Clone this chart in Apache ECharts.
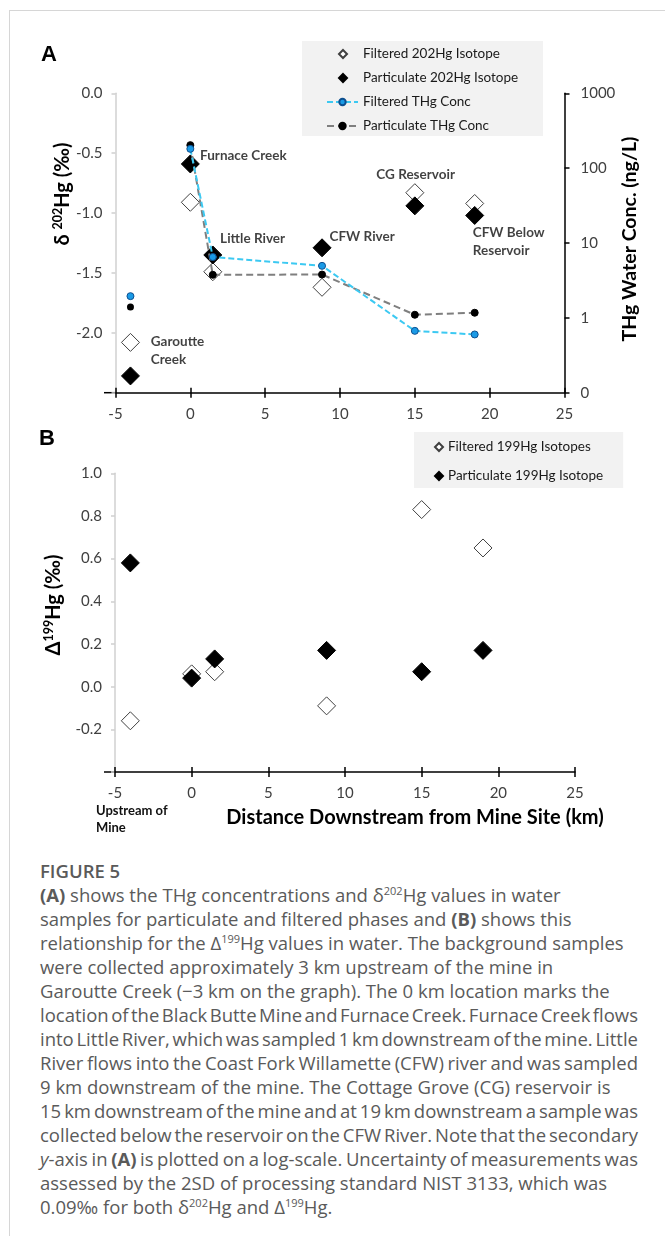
<!DOCTYPE html>
<html>
<head>
<meta charset="utf-8">
<script src="https://cdn.jsdelivr.net/npm/echarts@6/dist/echarts.min.js"></script>
<style>
  html, body { margin: 0; padding: 0; background: #fff; }
  #page { position: relative; width: 665px; height: 1236px; overflow: hidden; background: #fff; }
  #frame { position: absolute; left: 9px; top: 10px; right: -5px; bottom: -5px;
           border-top: 1.5px solid #d6d6d6; border-left: 1.5px solid #d6d6d6; }
  #chart { position: absolute; left: 0; top: 0; width: 665px; height: 850px; }
  #caption { position: absolute; left: 40px; top: 859px; width: 625px;
             font-family: "Open Sans", "Noto Sans", sans-serif; font-size: 18.5px; line-height: 24px;
             color: #5a5a5a; }
  #caption .ln { display: block; white-space: nowrap; }
  #caption .ln span.inner { display: inline-block; }
  #caption .fig { font-weight: 600; }
  #caption b { font-weight: 700; }
  #caption sup { font-size: 11px; line-height: 0; vertical-align: 7px; }
</style>
</head>
<body>
<div id="page">
  <div id="frame"></div>
  <div id="chart"></div>
  <div id="caption">
    <span class="ln fig">FIGURE 5</span>
    <span class="ln"><b>(A)</b> shows the THg concentrations and δ<sup>202</sup>Hg values in water</span>
    <span class="ln">samples for particulate and filtered phases and <b>(B)</b> shows this</span>
    <span class="ln">relationship for the Δ<sup>199</sup>Hg values in water. The background samples</span>
    <span class="ln">were collected approximately 3 km upstream of the mine in</span>
    <span class="ln">Garoutte Creek (−3 km on the graph). The 0 km location marks the</span>
    <span class="ln">location of the Black Butte Mine and Furnace Creek. Furnace Creek flows</span>
    <span class="ln">into Little River, which was sampled 1 km downstream of the mine. Little</span>
    <span class="ln">River flows into the Coast Fork Willamette (CFW) river and was sampled</span>
    <span class="ln">9 km downstream of the mine. The Cottage Grove (CG) reservoir is</span>
    <span class="ln">15 km downstream of the mine and at 19 km downstream a sample was</span>
    <span class="ln">collected below the reservoir on the CFW River. Note that the secondary</span>
    <span class="ln"><i>y</i>-axis in <b>(A)</b> is plotted on a log-scale. Uncertainty of measurements was</span>
    <span class="ln">assessed by the 2SD of processing standard NIST 3133, which was</span>
    <span class="ln">0.09‰ for both δ<sup>202</sup>Hg and Δ<sup>199</sup>Hg.</span>
  </div>
</div>
<script>
// ---------------- data ----------------
const distKm          = [-4, 0, 1.5, 8.8, 15, 19];
const filtered202     = [-2.08, -0.91, -1.49, -1.62, -0.83, -0.92];
const particulate202  = [-2.36, -0.59, -1.35, -1.29, -0.94, -1.02];
const filteredTHg     = [1.95, 181, 6.5, 4.95, 0.67, 0.60];
const particulateTHg  = [1.40, 203, 3.76, 3.79, 1.10, 1.17];
const filtered199     = [-0.16, 0.06, 0.07, -0.09, 0.83, 0.65];
const particulate199  = [0.58, 0.04, 0.13, 0.17, 0.07, 0.17];
const siteNames       = ['Garoutte\nCreek', 'Furnace Creek', 'Little River', 'CFW River', 'CG Reservoir', 'CFW Below\nReservoir'];
const siteLabelX      = [-2.64, 0.65, 1.99, 9.3, 12.43, 18.87];
const siteLabelY      = [-2.15, -0.52, -1.21, -1.2, -0.68, -1.24];
const legendA = ['Filtered 202Hg Isotope', 'Particulate 202Hg Isotope', 'Filtered THg Conc', 'Particulate THg Conc'];
const legendB = ['Filtered 199Hg Isotopes', 'Particulate 199Hg Isotope'];

// ---------------- caption fitting (long lines are set tighter, as in the source) ----------------
(function fitCaption() {
  const maxW = 598;
  document.querySelectorAll('#caption .ln').forEach(el => {
    const range = document.createRange();
    range.selectNodeContents(el);
    const w = range.getBoundingClientRect().width;
    if (w > maxW) {
      const spaces = (el.textContent.match(/ /g) || []).length;
      if (spaces) el.style.wordSpacing = ((maxW - w) / spaces) + 'px';
    }
  });
})();

// ---------------- helpers ----------------
const pairs = (xs, ys) => xs.map((x, i) => [x, ys[i]]);
const FONT = 'Lato';
const labelColor = '#404040';

const chart = echarts.init(document.getElementById('chart'), null, { renderer: 'canvas' });

const xMain = (grid) => ({
  type: 'value', gridIndex: grid, min: -5, max: 25, interval: 5, position: 'bottom',
  axisLine: { show: true, onZero: false, lineStyle: { color: '#000', width: 1.5 } },
  axisTick: { show: true, inside: false, length: 5, lineStyle: { color: '#000', width: 1.5 } },
  axisLabel: { show: true, margin: 14, fontFamily: FONT, fontSize: 15, color: labelColor },
  splitLine: { show: false }
});
const xInner = (grid) => ({
  type: 'value', gridIndex: grid, min: -5, max: 25, interval: 5, position: 'bottom',
  axisLine: { show: false, onZero: false },
  axisTick: { show: true, inside: true, length: 5, lineStyle: { color: '#000', width: 1.5 } },
  axisLabel: { show: false },
  splitLine: { show: false }
});

const diamondOpen = { color: '#fff', borderColor: '#404040', borderWidth: 1, opacity: 1 };
const diamondFill = { color: '#000', borderColor: '#000', borderWidth: 1, opacity: 1 };
const legendText = { fontFamily: FONT, fontSize: 13.5, lineHeight: 14, color: '#1a1a1a' };

const option = {
  animation: false,
  backgroundColor: 'transparent',
  grid: [
    { left: 115.5, top: 93.3, width: 449, height: 299.4, containLabel: false },
    { left: 115, top: 473.3, width: 460, height: 298.7, containLabel: false }
  ],
  xAxis: [ xMain(0), xInner(0), xMain(1), xInner(1) ],
  yAxis: [
    { type: 'value', gridIndex: 0, min: -2.5, max: 0, interval: 0.5, position: 'left',
      axisLine: { show: true, onZero: false, lineStyle: { color: '#d0d0d0', width: 1.5 } },
      axisTick: { show: true, length: 4, lineStyle: { color: '#d0d0d0', width: 1.5 } },
      axisLabel: { margin: 13, fontFamily: FONT, fontSize: 15, color: labelColor,
                   formatter: v => (v < -2.4 ? '' : v.toFixed(1)) },
      splitLine: { show: false } },
    { type: 'log', logBase: 10, gridIndex: 0, min: 0.1, max: 1000, position: 'right',
      axisLine: { show: true, onZero: false, lineStyle: { color: '#000', width: 1.5 } },
      axisTick: { show: true, length: 5, lineStyle: { color: '#000', width: 1.5 } },
      axisLabel: { margin: 16, fontFamily: FONT, fontSize: 15, color: labelColor,
                   formatter: v => (v < 0.5 ? '0' : String(Math.round(v))) },
      splitLine: { show: false } },
    { type: 'value', gridIndex: 1, min: -0.4, max: 1.0, interval: 0.2, position: 'left',
      axisLine: { show: true, onZero: false, lineStyle: { color: '#d0d0d0', width: 1.5 } },
      axisTick: { show: true, length: 4, lineStyle: { color: '#d0d0d0', width: 1.5 } },
      axisLabel: { margin: 13, fontFamily: FONT, fontSize: 15, color: labelColor,
                   formatter: v => (v < -0.35 ? '' : (Math.abs(v) < 1e-9 ? '0.0' : v.toFixed(1))) },
      splitLine: { show: false } }
  ],
  legend: [
    { data: [ { name: legendA[0], icon: 'diamond' }, { name: legendA[1], icon: 'diamond' } ],
      orient: 'vertical', left: 338, top: 41, padding: [6, 0, 0, 0],
      itemWidth: 8, itemHeight: 8, itemGap: 10,
      textStyle: Object.assign({ padding: [0, 0, 0, 11] }, legendText),
      selectedMode: false },
    { data: [ legendA[2], legendA[3] ],
      orient: 'vertical', left: 326, top: 89, padding: [6, 0, 0, 0],
      itemWidth: 31, itemHeight: 8, itemGap: 10,
      textStyle: legendText,
      selectedMode: false },
    { data: [ { name: legendB[0], icon: 'diamond' }, { name: legendB[1], icon: 'diamond' } ],
      orient: 'vertical', left: 414, top: 432,
      backgroundColor: '#f2f2f2', padding: [8, 20, 5, 20],
      itemWidth: 8, itemHeight: 8, itemGap: 15,
      textStyle: legendText,
      selectedMode: false }
  ],
  series: [
    { name: legendA[0], type: 'scatter', xAxisIndex: 0, yAxisIndex: 0, symbol: 'diamond', symbolSize: 18,
      itemStyle: diamondOpen, data: pairs(distKm, filtered202), z: 2 },
    { name: legendA[1], type: 'scatter', xAxisIndex: 0, yAxisIndex: 0, symbol: 'diamond', symbolSize: 18,
      itemStyle: diamondFill, data: pairs(distKm, particulate202), z: 2 },
    { name: legendA[2], type: 'line', xAxisIndex: 0, yAxisIndex: 1, symbol: 'circle', symbolSize: 7,
      showAllSymbol: true,
      itemStyle: { color: '#1a9ae6', borderColor: '#0d4f8f', borderWidth: 1 },
      lineStyle: { color: '#3cc9f2', width: 2, type: [6, 3] },
      data: pairs(distKm.slice(1), filteredTHg.slice(1)), z: 4 },
    { name: legendA[3], type: 'line', xAxisIndex: 0, yAxisIndex: 1, symbol: 'circle', symbolSize: 7,
      showAllSymbol: true,
      itemStyle: { color: '#000', borderColor: '#000', borderWidth: 1 },
      lineStyle: { color: '#7f7f7f', width: 2, type: [7, 4] },
      data: pairs(distKm.slice(1), particulateTHg.slice(1)), z: 3 },
    { type: 'scatter', xAxisIndex: 0, yAxisIndex: 1, symbol: 'circle', symbolSize: 7,
      itemStyle: { color: '#1a9ae6', borderColor: '#0d4f8f', borderWidth: 1, opacity: 1 },
      data: pairs(distKm.slice(0, 1), filteredTHg.slice(0, 1)), z: 4 },
    { type: 'scatter', xAxisIndex: 0, yAxisIndex: 1, symbol: 'circle', symbolSize: 7,
      itemStyle: { color: '#000', opacity: 1 },
      data: pairs(distKm.slice(0, 1), particulateTHg.slice(0, 1)), z: 4 },
    { type: 'scatter', xAxisIndex: 0, yAxisIndex: 0, symbolSize: 0, silent: true, z: 5,
      label: { show: true, position: 'right', distance: 0, formatter: p => p.data.name,
               fontFamily: FONT, fontWeight: 'bold', fontSize: 13.5, lineHeight: 18, color: '#111' },
      data: siteNames.map((n, i) => ({ name: n, value: [siteLabelX[i], siteLabelY[i]] })) },
    { name: legendB[0], type: 'scatter', xAxisIndex: 2, yAxisIndex: 2, symbol: 'diamond', symbolSize: 18,
      itemStyle: diamondOpen, data: pairs(distKm, filtered199), z: 2 },
    { name: legendB[1], type: 'scatter', xAxisIndex: 2, yAxisIndex: 2, symbol: 'diamond', symbolSize: 18,
      itemStyle: diamondFill, data: pairs(distKm, particulate199), z: 3 }
  ],
  graphic: [
    { type: 'rect', z: -10, shape: { x: 302, y: 41, width: 241, height: 95 }, style: { fill: '#f2f2f2' } },
    { type: 'text', x: 49, y: 55, style: { text: 'A', font: 'bold 22px "Liberation Sans"', fill: '#000',
      align: 'center', verticalAlign: 'middle', textAlign: 'center', textVerticalAlign: 'middle' } },
    { type: 'text', x: 47, y: 439, style: { text: 'B', font: 'bold 22px "Liberation Sans"', fill: '#000',
      align: 'center', verticalAlign: 'middle', textAlign: 'center', textVerticalAlign: 'middle' } },
    { type: 'text', x: 63, y: 194, rotation: Math.PI / 2,
      style: { text: '{a|δ }{s|202}{a|Hg (‰)}', align: 'center', verticalAlign: 'middle',
               textAlign: 'center', textVerticalAlign: 'middle',
               rich: { a: { fontFamily: FONT, fontWeight: 'bold', fontSize: 20, fill: '#000', lineHeight: 23 },
                       s: { fontFamily: FONT, fontWeight: 'bold', fontSize: 12.5, fill: '#000', verticalAlign: 'top', lineHeight: 23 } } } },
    { type: 'text', x: 630, y: 239, rotation: Math.PI / 2,
      style: { text: 'THg Water Conc. (ng/L)', font: 'bold 19.5px Lato', fill: '#000',
               align: 'center', verticalAlign: 'middle', textAlign: 'center', textVerticalAlign: 'middle' } },
    { type: 'text', x: 54, y: 605, rotation: Math.PI / 2,
      style: { text: '{a|Δ}{s|199}{a|Hg (‰)}', align: 'center', verticalAlign: 'middle',
               textAlign: 'center', textVerticalAlign: 'middle',
               rich: { a: { fontFamily: FONT, fontWeight: 'bold', fontSize: 20, fill: '#000', lineHeight: 23 },
                       s: { fontFamily: FONT, fontWeight: 'bold', fontSize: 12.5, fill: '#000', verticalAlign: 'top', lineHeight: 23 } } } },
    { type: 'text', x: 415, y: 818,
      style: { text: 'Distance Downstream from Mine Site (km)', font: 'bold 20px Lato', fill: '#000',
               align: 'center', verticalAlign: 'middle', textAlign: 'center', textVerticalAlign: 'middle' } },
    { type: 'text', x: 96, y: 819,
      style: { text: 'Upstream of\nMine', font: 'bold 13px Lato', fill: '#111', lineHeight: 17,
               align: 'left', verticalAlign: 'middle', textAlign: 'left', textVerticalAlign: 'middle' } },
    { type: 'line', shape: { x1: 104, y1: 392.7, x2: 116, y2: 392.7 }, style: { stroke: '#000', lineWidth: 1.5 } },
    { type: 'line', shape: { x1: 104, y1: 772, x2: 115.5, y2: 772 }, style: { stroke: '#000', lineWidth: 1.5 } }
  ]
};
chart.setOption(option);
</script>
</body>
</html>
